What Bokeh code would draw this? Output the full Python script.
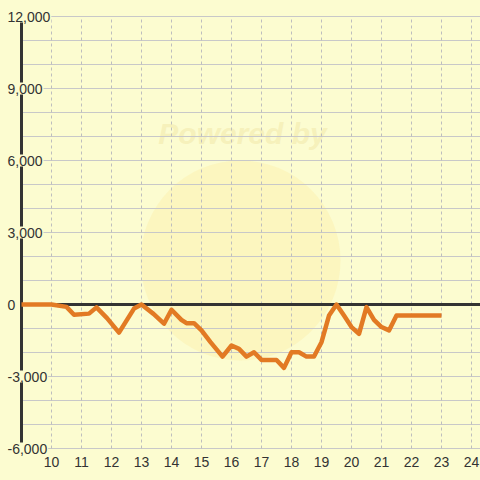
from bokeh.plotting import figure
from bokeh.models import Range1d, FixedTicker, GlobalInlineStyleSheet
from bokeh.core.properties import value
from bokeh.embed import file_html
from bokeh.resources import INLINE

BG = "#FCFCD0"
FONT = "Liberation Sans"

# ---- data ----
x_vals = [9, 10, 10.5, 10.75, 11.25, 11.5, 11.85, 12.25, 12.75, 13, 13.4, 13.75,
          14, 14.33, 14.5, 14.75, 15, 15.3, 15.7, 16, 16.25, 16.5, 16.75, 17,
          17.5, 17.75, 18, 18.25, 18.5, 18.75, 19, 19.25, 19.5, 19.75, 20,
          20.25, 20.5, 20.75, 21, 21.25, 21.5, 23]
y_vals = [0, 0, -100, -430, -380, -120, -570, -1170, -170, 0, -390, -800,
          -220, -640, -780, -780, -1080, -1570, -2170, -1710, -1850, -2170, -1990, -2310,
          -2310, -2640, -1990, -1990, -2170, -2170, -1570, -460, 0, -460, -940,
          -1220, -110, -640, -940, -1080, -460, -460]

x_ticks = list(range(10, 25))
y_grid = list(range(-6000, 12001, 1000))
y_label_vals = [-6000, -3000, 0, 3000, 6000, 9000, 12000]
y_label_text = ["-6,000", "-3,000", "0", "3,000", "6,000", "9,000", "12,000"]
x_axis_pos = 9
y_min, y_max = -6000, 12000

# ranges (30 px per x unit, 24 px per 1000)
x_start = x_axis_pos - 21 / 30
x_end = x_axis_pos + 459 / 30
y_start = y_min - 8 / 0.024
y_end = y_max + 16 / 0.024

p = figure(width=480, height=480, x_range=Range1d(x_start, x_end),
           y_range=Range1d(y_start, y_end), output_backend="svg",
           toolbar_location=None, y_axis_location=None,
           min_border_left=0, min_border_right=0, min_border_top=0,
           min_border_bottom=24)
p.background_fill_color = BG
p.border_fill_color = BG
p.outline_line_color = None
p.xgrid.grid_line_color = None
p.ygrid.grid_line_color = None
p.stylesheets = [GlobalInlineStyleSheet(css="body{background-color:%s;}" % BG)]

ax = p.xaxis[0]
ax.ticker = FixedTicker(ticks=x_ticks)
ax.axis_line_color = None
ax.major_tick_line_color = None
ax.minor_tick_line_color = None
ax.major_tick_out = 0
ax.major_tick_in = 0
ax.major_label_standoff = 0
ax.major_label_text_font = FONT
ax.major_label_text_font_size = "14px"
ax.major_label_text_color = "#333333"

# watermark (decorative)
cx = x_axis_pos + (240 - 21) / 30
cy = 44 / 0.024
p.circle(x=[cx], y=[cy], radius=100, radius_units="screen",
         fill_color="#FBE99A", fill_alpha=0.32, line_color=None)
p.text(x=[x_axis_pos + (242 - 21) / 30], y=[171 / 0.024], text=["Powered by"],
       text_font=value(FONT), text_font_style="bold italic", text_font_size="30px",
       text_color="#EFE3A0", text_alpha=0.45, text_align="center",
       text_baseline="middle")

# grid lines
n_h = len(y_grid)
p.segment(x0=[x_axis_pos] * n_h, x1=[x_end] * n_h, y0=y_grid, y1=y_grid,
          line_color="#C8C8C8", line_width=1)
n_v = len(x_ticks)
p.segment(x0=x_ticks, x1=x_ticks, y0=[y_min] * n_v, y1=[y_max] * n_v,
          line_color="#BEBEBE", line_width=1, line_dash="3 3")

# axis lines
p.segment(x0=[x_axis_pos], x1=[x_axis_pos], y0=[y_min], y1=[y_max],
          line_color="#333333", line_width=3)
p.segment(x0=[x_axis_pos], x1=[x_end], y0=[0], y1=[0],
          line_color="#333333", line_width=3)

# data line
p.line(x_vals, y_vals, line_color="#E27A24", line_width=4.5, line_join="round")

# y labels
n_l = len(y_label_vals)
p.text(x=[x_start + 6 / 30] * n_l, y=y_label_vals, text=y_label_text,
       text_font=value(FONT), text_font_size="14px", text_color="#333333",
       text_align="left", text_baseline="middle",
       background_fill_color=BG, padding=1)

open("out.html", "w").write(file_html(p, INLINE))
